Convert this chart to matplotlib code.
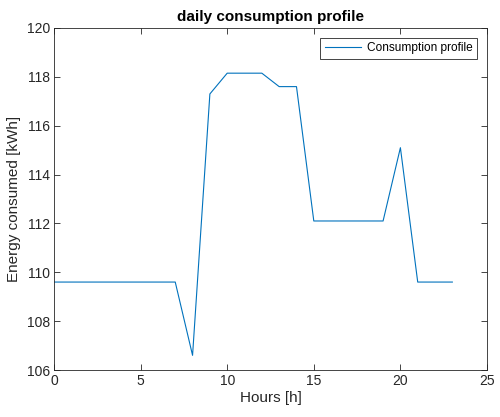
import numpy as np
import matplotlib.pyplot as plt

plt.rcParams['font.family'] = ['Liberation Sans', 'DejaVu Sans']

# hourly consumption values
hours = list(range(24))
consumption = [109.6, 109.6, 109.6, 109.6, 109.6, 109.6, 109.6, 109.6,
               106.6, 117.3, 118.15, 118.15, 118.15, 117.6, 117.6,
               112.1, 112.1, 112.1, 112.1, 112.1, 115.1,
               109.6, 109.6, 109.6]
xticks = [0, 5, 10, 15, 20, 25]
yticks = [106, 108, 110, 112, 114, 116, 118, 120]

dark = '#262626'
fig = plt.figure(figsize=(5, 4.17), dpi=100)
ax = fig.add_axes([0.108, 0.1127, 0.866, 0.8202])
ax.plot(hours, consumption, color='#0072BD', lw=0.8, label='Consumption profile')
ax.set_xlim(0, 25)
ax.set_ylim(106, 120)
ax.set_xticks(xticks)
ax.set_yticks(yticks)
ax.tick_params(direction='in', top=True, right=True, length=4, width=0.6,
               colors=dark, labelsize=10, labelcolor=dark, pad=3)
for s in ax.spines.values():
    s.set_color(dark)
    s.set_linewidth(0.6)
ax.set_xlabel('Hours [h]', fontsize=11, color=dark, labelpad=2)
ax.set_ylabel('Energy consumed [kWh]', fontsize=11, color=dark, labelpad=4)
ax.set_title('daily consumption profile', fontsize=11, fontweight='bold', color='black', pad=5)
leg = ax.legend(loc='upper right', fontsize=8.6, fancybox=False, framealpha=1,
                edgecolor=dark, borderaxespad=0.8, handlelength=3.0,
                handletextpad=0.5, borderpad=0.4)
leg.get_frame().set_linewidth(0.6)

fig.savefig('out.png')
